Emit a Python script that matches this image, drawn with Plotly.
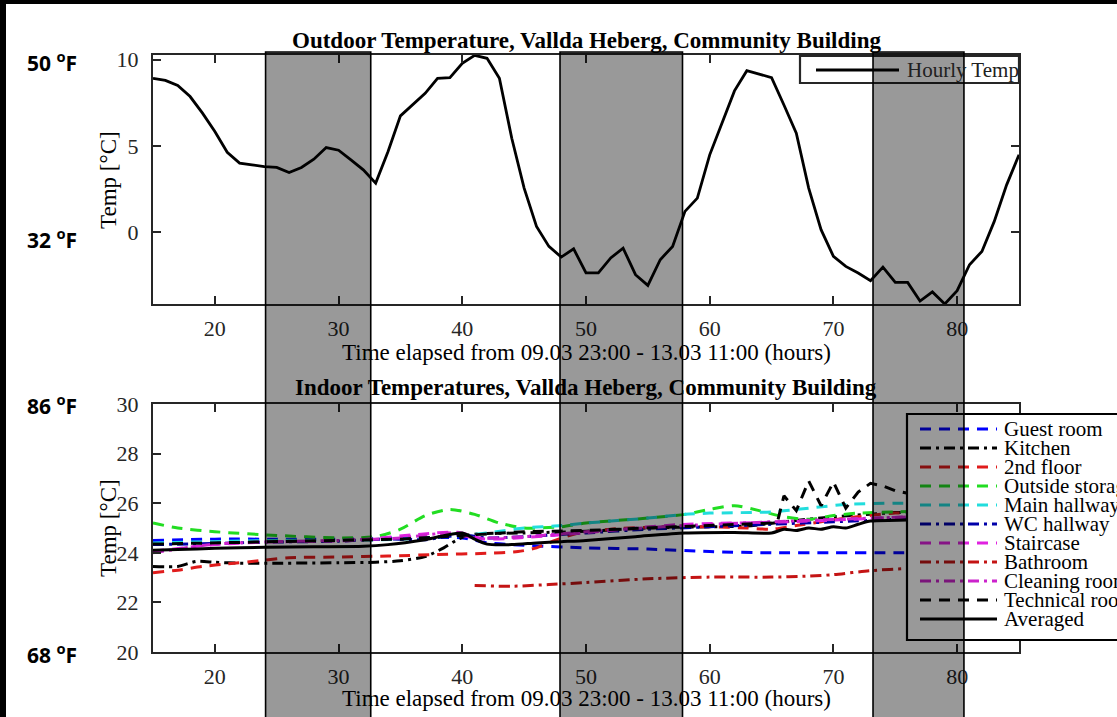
import plotly.graph_objects as go

# ---------------- data ----------------
hours_out = list(range(15, 86))
temp_out = [8.92, 8.80, 8.50, 7.86, 6.90, 5.83, 4.63, 4.00, 3.90, 3.80,
            3.75, 3.46, 3.75, 4.23, 4.90, 4.75, 4.19, 3.61, 2.84, 4.67,
            6.74, 7.37, 8.05, 8.92, 8.96, 9.79, 10.25, 10.08, 8.92, 5.44,
            2.55, 0.33, -0.83, -1.45, -0.97, -2.37, -2.37, -1.50, -0.93, -2.47,
            -3.09, -1.60, -0.83, 1.20, 1.97, 4.48, 6.31, 8.19, 9.36, 9.15,
            8.96, 7.37, 5.73, 2.55, 0.14, -1.41, -1.99, -2.37, -2.82, -2.03,
            -2.92, -2.92, -4.00, -3.47, -4.17, -3.40, -1.89, -1.12, 0.62, 2.74, 4.48]

night_start = [24.1, 47.9, 73.2]
night_end = [32.6, 57.8, 80.55]

guest_h = [15, 20, 25, 30, 35, 40, 42, 45, 50, 55, 60, 65, 70, 75, 80]
guest_t = [24.5, 24.55, 24.55, 24.55, 24.6, 24.6, 24.4, 24.3, 24.2, 24.15, 24.05, 24.0, 24.0, 24.0, 24.0]

kitchen_h = [15, 17, 18.5, 20, 22, 25, 30, 33, 35, 37, 38.5, 39.5, 40.5, 42, 45, 50, 55, 60, 63, 66, 70, 75, 80]
kitchen_t = [23.45, 23.45, 23.65, 23.62, 23.58, 23.58, 23.6, 23.62, 23.68, 23.85, 24.2, 24.5, 24.72, 24.78,
             24.8, 24.87, 25.0, 25.05, 25.08, 25.25, 25.45, 25.62, 25.65]

floor2_h = [15, 17, 19, 21, 24, 26, 30, 34, 38, 42, 44.5, 46, 47.5, 49, 52, 56, 60, 63, 65, 67, 69, 71, 75, 80]
floor2_t = [23.2, 23.3, 23.45, 23.55, 23.7, 23.8, 23.83, 23.87, 23.93, 23.98, 24.05, 24.2, 24.5, 24.75,
            24.95, 25.05, 25.05, 25.0, 24.95, 25.1, 25.25, 25.4, 25.6, 25.65]

outside_h = [15, 17, 20, 25, 30, 33, 35, 37, 39, 41, 43, 45, 48, 50, 55, 58, 60, 62, 64, 66, 68, 70, 72, 75, 80]
outside_t = [25.2, 25.0, 24.85, 24.7, 24.6, 24.65, 24.95, 25.5, 25.75, 25.55, 25.2, 25.0, 25.05, 25.2,
             25.4, 25.55, 25.75, 25.9, 25.7, 25.45, 25.35, 25.5, 25.6, 25.65, 25.7]

mainhall_h = [15, 20, 25, 30, 35, 40, 42, 45, 48, 50, 55, 58, 60, 65, 68, 71, 75, 80]
mainhall_t = [24.4, 24.45, 24.5, 24.5, 24.55, 24.7, 24.8, 25.0, 25.1, 25.2, 25.4, 25.55, 25.6, 25.65,
              25.8, 25.95, 26.0, 26.0]

wc_h = [15, 20, 24, 30, 34, 37, 39, 40, 42, 45, 50, 55, 60, 65, 70, 75, 80]
wc_t = [24.33, 24.38, 24.43, 24.47, 24.56, 24.53, 24.67, 24.72, 24.6, 24.65, 24.8, 24.95, 25.05,
        25.15, 25.25, 25.35, 25.4]

stair_h = [15, 20, 24, 31, 36.4, 39.6, 41.75, 44.4, 49.8, 57.6, 65.7, 71.1, 75.7, 80]
stair_t = [24.06, 24.33, 24.43, 24.5, 24.74, 24.83, 24.56, 24.6, 24.8, 25.14, 25.24, 25.34, 25.45, 25.5]

bath_h = [41, 44, 47, 50, 55, 60, 65, 68, 70, 73, 76, 80]
bath_t = [22.68, 22.65, 22.72, 22.8, 22.95, 23.02, 23.02, 23.06, 23.12, 23.28, 23.37, 23.45]

clean_h = [15, 20, 25, 30, 35, 39, 41, 45, 50, 58, 65, 72, 80]
clean_t = [24.0, 24.35, 24.45, 24.5, 24.6, 24.8, 24.6, 24.65, 24.85, 25.1, 25.25, 25.38, 25.5]

tech_h = [15, 20, 25, 30, 35, 40, 45, 50, 55, 60, 65, 65.5, 66, 67, 68, 69, 70, 71, 72, 73, 74, 75, 76]
tech_t = [24.35, 24.4, 24.45, 24.5, 24.55, 24.7, 24.85, 24.9, 25.0, 25.1, 25.2, 25.3, 26.3, 25.7, 26.9,
          25.9, 26.85, 25.8, 26.45, 26.8, 26.7, 26.5, 26.4]

avg_h = [15, 17, 20, 24, 28, 32, 34, 37, 40, 41, 42, 44, 46, 48, 50, 54, 58, 62, 65, 66, 67, 68, 69,
         70, 71, 72, 73, 76, 80]
avg_t = [24.1, 24.13, 24.18, 24.22, 24.24, 24.26, 24.33, 24.53, 24.8, 24.55, 24.35, 24.33, 24.4, 24.45,
         24.5, 24.65, 24.8, 24.82, 24.8, 24.95, 24.9, 25.0, 24.95, 25.05, 25.0, 25.15, 25.28, 25.32, 25.35]

names = ["Guest room", "Kitchen", "2nd floor", "Outside storage", "Main hallway", "WC hallway",
         "Staircase", "Bathroom", "Cleaning room", "Technical room", "Averaged"]

# ---------------- styles / layout ----------------
XMIN, XMAX = 15, 85
Y1MIN, Y1MAX = -4.17, 10.27
Y2MIN, Y2MAX = 20, 30
W, H = 1117, 717
L, R, T, B = 153, 1019, 55, 652

DASH = "11px,8px"
DASHDOT = "11px,5px,3px,5px"
styles = [
    ("#0000ff", DASH), ("#000000", DASHDOT), ("#e01c1c", DASH), ("#22dd22", DASH),
    ("#22dddd", DASH), ("#0000aa", DASHDOT), ("#e022e0", DASH), ("#c41414", DASHDOT),
    ("#cc22cc", DASHDOT), ("#000000", DASH), ("#000000", "solid"),
]
series = [(guest_h, guest_t), (kitchen_h, kitchen_t), (floor2_h, floor2_t), (outside_h, outside_t),
          (mainhall_h, mainhall_t), (wc_h, wc_t), (stair_h, stair_t), (bath_h, bath_t),
          (clean_h, clean_t), (tech_h, tech_t), (avg_h, avg_t)]


def px(X):
    return (X - L) / (R - L)


def py(Y):
    return (B - Y) / (B - T)


def hx(h):
    return (h - XMIN) / (XMAX - XMIN)


SERIF = "Liberation Serif"
AX = "#262626"

fig = go.Figure()
fig.add_trace(go.Scatter(x=hours_out, y=temp_out, mode="lines", name="Hourly Temp",
                         line=dict(color="black", width=2.8), xaxis="x", yaxis="y"))
for (hh, tt), name, (col, dash) in zip(series, names, styles):
    shape = "linear" if name == "Technical room" else "spline"
    fig.add_trace(go.Scatter(x=hh, y=tt, mode="lines", name=name,
                             line=dict(color=col, width=3, dash=dash, shape=shape, smoothing=0.7),
                             xaxis="x2", yaxis="y2"))

axis_common = dict(showline=True, linewidth=2.2, linecolor=AX, mirror="allticks", ticks="inside",
                   ticklen=8, tickwidth=2.2, tickcolor=AX, showgrid=False, zeroline=False,
                   tickfont=dict(family=SERIF, size=22, color=AX))

top_dom = [py(304), 1.0]
bot_dom = [0.0, py(404)]

fig.update_layout(
    width=W, height=H,
    margin=dict(l=L, r=W - R, t=T, b=H - B, autoexpand=False),
    paper_bgcolor="white", plot_bgcolor="white", showlegend=False,
    xaxis=dict(domain=[0, 1], range=[XMIN, XMAX], tickvals=[20, 30, 40, 50, 60, 70, 80],
               anchor="y", ticklabelstandoff=3, **axis_common),
    yaxis=dict(domain=top_dom, range=[Y1MIN, Y1MAX], tickvals=[0, 5, 10], anchor="x",
               ticklabelstandoff=8, **axis_common),
    xaxis2=dict(domain=[0, 1], range=[XMIN, XMAX], tickvals=[20, 30, 40, 50, 60, 70, 80],
                anchor="y2", ticklabelstandoff=3, **axis_common),
    yaxis2=dict(domain=bot_dom, range=[Y2MIN, Y2MAX], tickvals=[20, 22, 24, 26, 28, 30], anchor="x2",
                ticklabelstandoff=8, **axis_common),
)

shapes = []
ann = []

# titles and axis labels
xtitle = "Time elapsed from 09.03 23:00 - 13.03 11:00 (hours)"
ann.append(dict(text="<b>Outdoor Temperature, Vallda Heberg, Community Building</b>", x=px(586), y=py(40)))
ann.append(dict(text="<b>Indoor Temperatures, Vallda Heberg, Community Building</b>", x=px(586), y=py(387)))
ann.append(dict(text=xtitle, x=px(586), y=py(352)))
ann.append(dict(text=xtitle, x=px(586), y=py(698)))
ann.append(dict(text="Temp [°C]", x=px(108), y=py(180), textangle=-90))
ann.append(dict(text="Temp [°C]", x=px(108), y=py(528), textangle=-90))
for a in ann:
    a.update(xref="paper", yref="paper", showarrow=False, xanchor="center", yanchor="middle",
             font=dict(family=SERIF, size=23, color="black"))

# Fahrenheit side labels
for txt, Y in [("50 <sup>o</sup>F", 62), ("32 <sup>o</sup>F", 238), ("86 <sup>o</sup>F", 404),
               ("68 <sup>o</sup>F", 653)]:
    ann.append(dict(text="<b>" + txt + "</b>", x=px(52), y=py(Y), xref="paper", yref="paper",
                    showarrow=False, xanchor="center", yanchor="middle",
                    font=dict(family="Open Sans", size=21, color="black")))

# top legend (manual)
shapes.append(dict(type="rect", xref="paper", yref="paper", x0=px(800), x1=px(1019), y0=py(83), y1=py(56),
                   fillcolor="white", line=dict(color=AX, width=2.2), layer="above"))
shapes.append(dict(type="line", xref="paper", yref="paper", x0=px(816), x1=px(899), y0=py(70), y1=py(70),
                   line=dict(color="black", width=2.8), layer="above"))
ann.append(dict(text="Hourly Temp", x=px(905), y=py(70), xref="paper", yref="paper", showarrow=False,
                xanchor="left", yanchor="middle", font=dict(family=SERIF, size=21, color="#202020")))

# bottom legend (manual)
shapes.append(dict(type="rect", xref="paper", yref="paper", x0=px(907), x1=px(1140), y0=py(640), y1=py(414),
                   fillcolor="white", line=dict(color="black", width=2.2), layer="above"))
for i, (name, (col, dash)) in enumerate(zip(names, styles)):
    Y = 429 + i * 19
    shapes.append(dict(type="line", xref="paper", yref="paper", x0=px(920), x1=px(997), y0=py(Y), y1=py(Y),
                       line=dict(color=col, width=3, dash=dash), layer="above"))
    ann.append(dict(text=name, x=px(1002), y=py(Y), xref="paper", yref="paper", showarrow=False,
                    xanchor="left", yanchor="middle", font=dict(family=SERIF, size=21, color="black")))

# night shading (semi-transparent overlay spanning both panels)
for s, e in zip(night_start, night_end):
    shapes.append(dict(type="rect", xref="paper", yref="paper", x0=hx(s), x1=hx(e), y0=py(H + 5), y1=py(52),
                       fillcolor="rgba(0,0,0,0.4)", line=dict(color="black", width=1.6), layer="above"))

# black frame remnants at top and left
shapes.append(dict(type="rect", xref="paper", yref="paper", x0=px(-5), x1=px(6), y0=py(H + 5), y1=py(-5),
                   fillcolor="black", line=dict(width=0), layer="above"))
shapes.append(dict(type="rect", xref="paper", yref="paper", x0=px(-5), x1=px(W + 5), y0=py(4), y1=py(-5),
                   fillcolor="black", line=dict(width=0), layer="above"))

fig.update_layout(shapes=shapes, annotations=ann)
fig.write_html("out.html")
